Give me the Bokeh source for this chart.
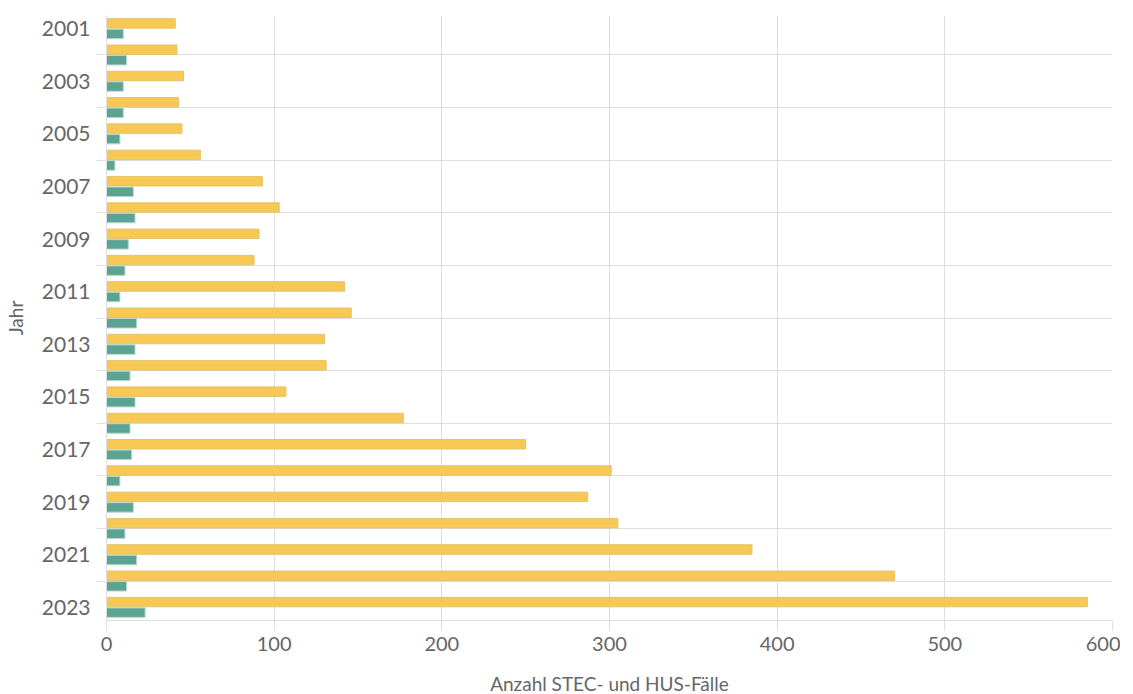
from bokeh.plotting import figure
from bokeh.models import FixedTicker, Range1d, ColumnDataSource
from bokeh.transform import dodge
from bokeh.embed import file_html
from bokeh.resources import INLINE

years = list(range(2001, 2024))
stec = [41, 42, 46, 43, 45, 56, 93, 103, 91, 88, 142, 146, 130, 131, 107, 177, 250, 301, 287, 305, 385, 470, 585]
hus = [10, 12, 10, 10, 8, 5, 16, 17, 13, 11, 8, 18, 17, 14, 17, 14, 15, 8, 16, 11, 18, 12, 23]
x_ticks = [0, 100, 200, 300, 400, 500, 600]
y_label_years = [y for y in years if y % 2 == 1]
y_grid_years = [y for y in years if y % 2 == 0]

src = ColumnDataSource(dict(year=years, stec=stec, hus=hus))

FONT = "Lato"
GRAY = "#666666"
LIGHT = "#dedede"

p = figure(
    frame_width=1006, frame_height=605,
    min_border_left=98, min_border_top=15, min_border_right=8, min_border_bottom=40,
    x_range=Range1d(0, 600), y_range=Range1d(2023.5, 2000.5),
    output_backend="svg", toolbar_location=None,
)
p.outline_line_color = None
p.background_fill_color = "white"

p.hbar(y=dodge("year", -0.2), right="stec", left=0, height=0.36, source=src,
       fill_color="#F7C853", line_color="#e3c370", line_width=1)
p.hbar(y=dodge("year", 0.2), right="hus", left=0, height=0.36, source=src,
       fill_color="#5BA392", line_color="#b9d6cd", line_width=1)

# x axis
p.xaxis.ticker = FixedTicker(ticks=x_ticks)
p.xaxis.axis_line_color = LIGHT
p.xaxis.major_tick_line_color = LIGHT
p.xaxis.major_tick_out = 10
p.xaxis.major_tick_in = 0
p.xaxis.minor_tick_line_color = None
p.xaxis.major_label_text_font = FONT
p.xaxis.major_label_text_font_size = "20px"
p.xaxis.major_label_text_color = GRAY
p.xaxis.major_label_standoff = 6
p.xaxis.axis_label = "Anzahl STEC- und HUS-Fälle"
p.xaxis.axis_label_text_font = FONT
p.xaxis.axis_label_text_font_style = "normal"
p.xaxis.axis_label_text_font_size = "19px"
p.xaxis.axis_label_text_color = GRAY
p.xaxis.axis_label_standoff = 18
p.xgrid.ticker = FixedTicker(ticks=x_ticks)
p.xgrid.grid_line_color = LIGHT
p.xgrid.grid_line_width = 1

# y axis
p.yaxis.ticker = FixedTicker(ticks=y_label_years, minor_ticks=y_grid_years)
p.yaxis.axis_line_color = LIGHT
p.yaxis.major_tick_line_color = None
p.yaxis.minor_tick_line_color = LIGHT
p.yaxis.minor_tick_out = 10
p.yaxis.minor_tick_in = 0
p.yaxis.major_label_text_font = FONT
p.yaxis.major_label_text_font_size = "21px"
p.yaxis.major_label_text_color = GRAY
p.yaxis.major_label_standoff = 6
p.yaxis.axis_label = "Jahr"
p.yaxis.axis_label_text_font = FONT
p.yaxis.axis_label_text_font_style = "normal"
p.yaxis.axis_label_text_font_size = "19px"
p.yaxis.axis_label_text_color = GRAY
p.yaxis.axis_label_standoff = 12
p.ygrid.ticker = FixedTicker(ticks=y_grid_years + [2023.5])
p.ygrid.grid_line_color = LIGHT
p.ygrid.grid_line_width = 1

open("out.html", "w").write(file_html(p, INLINE))
